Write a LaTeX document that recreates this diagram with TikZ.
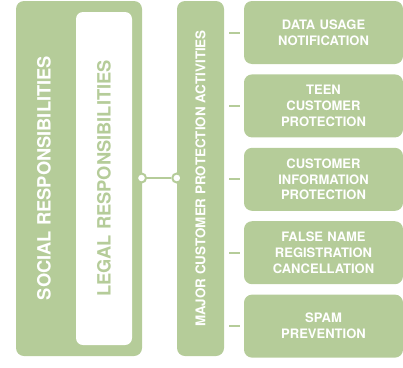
\documentclass[tikz,border=0pt]{standalone}
\usepackage{fontspec}
\setmainfont{TeX Gyre Heros}
\usetikzlibrary{positioning}
\definecolor{leaf}{HTML}{B5CC99}
\tikzset{
  panel/.style={fill=leaf, rounded corners=8pt, inner sep=0pt},
  inset/.style={fill=white, rounded corners=7pt, inner sep=0pt},
  biglab/.style={rotate=90, font=\bfseries\fontsize{18.3}{20}\selectfont},
  item/.style={panel, minimum width=159pt, minimum height=63pt, text width=150pt,
    align=center, text=white, font=\bfseries\fontsize{13}{15.7}\selectfont},
  tick/.style={draw=leaf, line width=2pt},
  joint/.style={circle, draw=leaf, fill=white, line width=2pt, minimum size=9pt, inner sep=0pt},
}

\begin{document}
\begin{tikzpicture}[x=1pt, y=-1pt]
  \useasboundingbox (0,0) rectangle (403,367);

  % outer and inner responsibilities
  \node[panel, minimum width=126pt, minimum height=355pt] (social) at (79,178.5) {};
  \node[inset, minimum width=56pt, minimum height=333pt] (legal) at (104,178.5) {};
  \node[biglab, text=white] (sociallab) at (44,178) {SOCIAL RESPONSIBILITIES};
  \node[biglab, text=leaf] (legallab) at (legal) {LEGAL RESPONSIBILITIES};

  % activity column
  \node[panel, minimum width=47pt, minimum height=355pt] (mid) at (200.5,178.5) {};
  \node[rotate=90, text=white, font=\bfseries\fontsize{13.4}{15}\selectfont] (midlab) at (mid)
    {MAJOR CUSTOMER PROTECTION ACTIVITIES};

  % link between the two
  \node[joint] (jl) at (141.5,178) {};
  \node[joint] (jr) at (mid.west |- jl) {};
  \draw[tick] (jl) -- (jr);

  % activities
  \node[item] (act1) at (323.5,32.5) {DATA USAGE\\NOTIFICATION};
  \node[item, below=10pt of act1] (act2) {TEEN\\CUSTOMER\\PROTECTION};
  \node[item, below=10pt of act2] (act3) {CUSTOMER\\INFORMATION\\PROTECTION};
  \node[item, below=10pt of act3] (act4) {FALSE NAME\\REGISTRATION\\CANCELLATION};
  \node[item, below=10pt of act4] (act5) {SPAM\\PREVENTION};

  \foreach \i in {1,...,5}
    \draw[tick] ([xshift=5pt]mid.east |- act\i.west) -- ([xshift=-4pt]act\i.west);
\end{tikzpicture}
\end{document}
